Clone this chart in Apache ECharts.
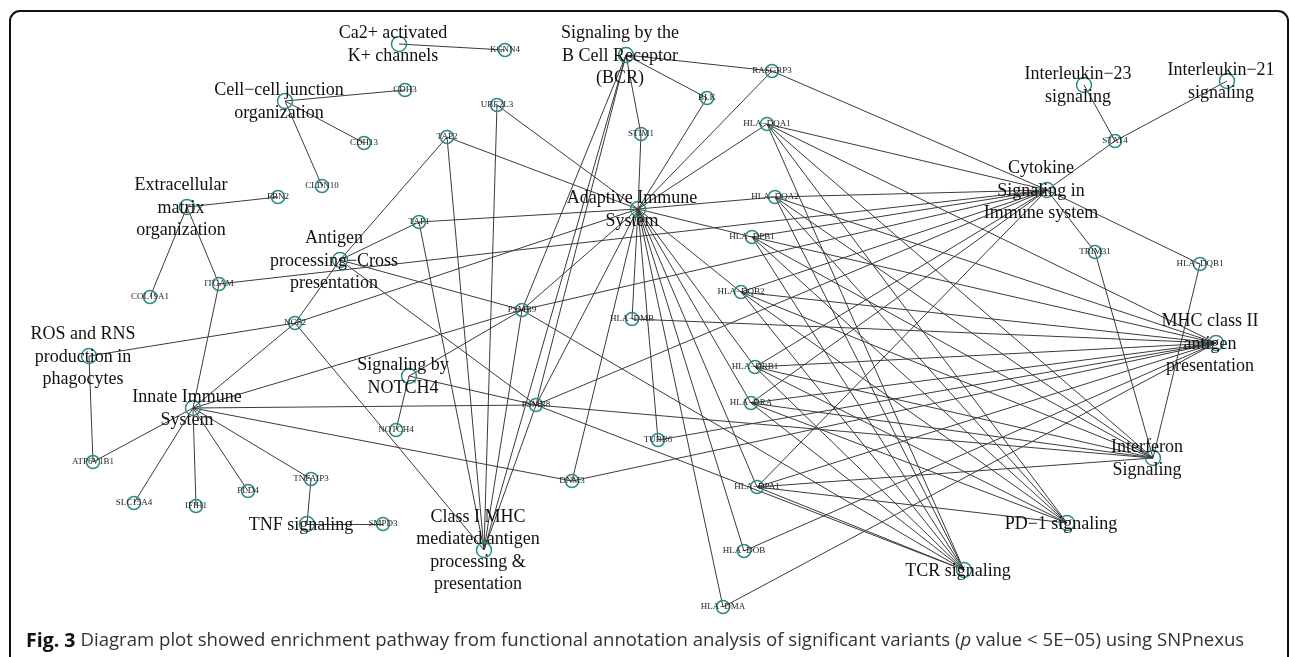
<!DOCTYPE html>
<html><head><meta charset="utf-8">
<script src="https://cdn.jsdelivr.net/npm/echarts@6/dist/echarts.min.js"></script>
<style>html,body{margin:0;padding:0;background:#fff}#c{width:1290px;height:657px}</style>
</head><body><div id="c"></div>
<script>
// Pathway nodes
const pathwayIds = ['CA','CCJ','ECM','AG','ROS','INN','NOTCH','TNF','C1','BCR','ADA','IL23','IL21','CYT','MHC2','IFN','PD1','TCR'];
const pathwayLabels = ['Ca2+ activated\nK+ channels','Cell\u2212cell junction\norganization','Extracellular\nmatrix\norganization',
 'Antigen\nprocessing\u2212Cross\npresentation','ROS and RNS\nproduction in\nphagocytes','Innate Immune\nSystem','Signaling by\nNOTCH4',
 'TNF signaling','Class I MHC\nmediated antigen\nprocessing &\npresentation','Signaling by the\nB Cell Receptor\n(BCR)',
 'Adaptive Immune\nSystem','Interleukin\u221223\nsignaling','Interleukin\u221221\nsignaling','Cytokine\nSignaling in\nImmune system',
 'MHC class II\nantigen\npresentation','Interferon\nSignaling','PD\u22121 signaling','TCR signaling'];
const pathwayX = [399,285,187,340,89,193,409,307,484,626,638,1084,1227,1047,1216,1153,1067,964];
const pathwayY = [44,101,207,260,356,408,376,524,550,55,209,85,81,190,343,458,523,570];

// Gene nodes
const geneLabels = ['KCNN4','CDH3','CDH13','CLDN10','FBN2','COL19A1','ITGAM','TAP2','TAP1','NCF2','UBE2L3','RASGRP3','BLK','STIM1',
 'HLA\u2212DQA1','HLA\u2212DQA2','HLA\u2212DPB1','HLA\u2212DQB2','HLA\u2212DMB','HLA\u2212DRB1','HLA\u2212DRA','HLA\u2212DPA1','HLA\u2212DOB','HLA\u2212DMA',
 'PSMB9','PSMB8','TUBB6','DNM3','NOTCH4','ATP6V1B1','SLC15A4','IFIH1','PLD4','TNFAIP3','SMPD3','STAT4','TRIM31','HLA\u2212DQB1'];
const geneX = [505,405,364,322,278,150,219,447,419,295,497,772,707,641,767,775,752,741,632,755,751,757,744,723,522,536,658,572,396,93,134,196,248,311,383,1115,1095,1200];
const geneY = [50,90,143,186,197,297,284,137,222,323,105,71,98,134,124,197,237,292,319,367,403,487,551,607,310,405,440,481,430,462,503,506,491,479,524,141,252,264];

// Edges: [gene, pathway]
const hlaCore = ['HLA\u2212DQA1','HLA\u2212DQA2','HLA\u2212DPB1','HLA\u2212DQB2','HLA\u2212DRB1','HLA\u2212DRA','HLA\u2212DPA1'];
const hlaAll = hlaCore.concat(['HLA\u2212DMB','HLA\u2212DOB','HLA\u2212DMA']);
const edgeList = [
 ['KCNN4','CA'],['CDH3','CCJ'],['CDH13','CCJ'],['CLDN10','CCJ'],
 ['FBN2','ECM'],['COL19A1','ECM'],['ITGAM','ECM'],['ITGAM','INN'],['ITGAM','CYT'],
 ['TAP2','AG'],['TAP1','AG'],['NCF2','AG'],['PSMB9','AG'],['PSMB8','AG'],
 ['TAP2','C1'],['TAP1','C1'],['NCF2','C1'],['UBE2L3','C1'],['PSMB9','C1'],['PSMB8','C1'],['BCR','C1'],
 ['TAP2','ADA'],['TAP1','ADA'],['NCF2','ADA'],['UBE2L3','ADA'],['STIM1','ADA'],['BLK','ADA'],['RASGRP3','ADA'],
 ['PSMB9','ADA'],['PSMB8','ADA'],['DNM3','ADA'],['TUBB6','ADA'],
 ['RASGRP3','BCR'],['BLK','BCR'],['STIM1','BCR'],['PSMB8','BCR'],['PSMB9','BCR'],
 ['NCF2','INN'],['ATP6V1B1','INN'],['SLC15A4','INN'],['IFIH1','INN'],['PLD4','INN'],['TNFAIP3','INN'],['PSMB9','INN'],['PSMB8','INN'],['DNM3','INN'],
 ['NCF2','ROS'],['ATP6V1B1','ROS'],['TNFAIP3','TNF'],['SMPD3','TNF'],
 ['NOTCH4','NOTCH'],['PSMB9','NOTCH'],['PSMB8','NOTCH'],
 ['RASGRP3','CYT'],['STAT4','CYT'],['TRIM31','CYT'],['HLA\u2212DQB1','CYT'],['PSMB8','CYT'],['PSMB9','CYT'],
 ['STAT4','IL23'],['STAT4','IL21'],
 ['TRIM31','IFN'],['HLA\u2212DQB1','IFN'],['PSMB8','IFN'],
 ['TUBB6','MHC2'],['DNM3','MHC2'],['PSMB8','TCR'],['PSMB9','TCR']
];
hlaAll.forEach(h => { edgeList.push([h,'ADA']); edgeList.push([h,'MHC2']); });
hlaCore.forEach(h => { ['CYT','IFN','PD1','TCR'].forEach(p => edgeList.push([h,p])); });

const nodes = [];
pathwayIds.forEach((id,i) => nodes.push({
  name: id, value: [pathwayX[i], pathwayY[i]], symbolSize: 15,
  label: { show: true, position: 'inside', offset: [-6, 1], formatter: pathwayLabels[i],
    fontFamily: 'Liberation Serif', fontSize: 18, lineHeight: 22.5, color: '#111' }
}));
geneLabels.forEach((g,i) => nodes.push({
  name: g, value: [geneX[i], geneY[i]], symbolSize: 13,
  label: { show: true, position: 'inside', formatter: g,
    fontFamily: 'Liberation Serif', fontSize: 9, color: '#222' }
}));
const links = edgeList.map(e => ({ source: e[0], target: e[1] }));

const chart = echarts.init(document.getElementById('c'), null, { renderer: 'canvas' });
chart.setOption({
  animation: false,
  grid: { left: 0, right: 0, top: 0, bottom: 0 },
  xAxis: { type: 'value', min: 0, max: 1290, show: false },
  yAxis: { type: 'value', min: 0, max: 657, inverse: true, show: false },
  title: {
    left: 26, top: 631, padding: 0,
    text: '{b|Fig. 3} {r|Diagram plot showed enrichment pathway from functional annotation analysis of significant variants (}{i|p}{r| value < 5E\u221205) using SNPnexus}',
    textStyle: { fontWeight: 'normal', rich: {
      b: { fontFamily: 'Open Sans', fontWeight: 'bold', fontSize: 19.5, color: '#111' },
      r: { fontFamily: 'Open Sans', fontWeight: 'normal', fontSize: 18.6, color: '#333' },
      i: { fontFamily: 'Open Sans', fontWeight: 'normal', fontStyle: 'italic', fontSize: 18.6, color: '#333' }
    } }
  },
  graphic: [{ type: 'rect', shape: { x: 10, y: 11, width: 1278, height: 720, r: 10 },
    style: { fill: 'none', stroke: '#111', lineWidth: 2 }, silent: true, z: 10 }],
  series: [{
    type: 'graph', coordinateSystem: 'cartesian2d', layout: 'none',
    data: nodes, links: links,
    symbol: 'circle',
    itemStyle: { color: 'rgba(255,255,255,0)', borderColor: '#2f8a86', borderWidth: 1.5 },
    lineStyle: { color: '#3a3a3a', width: 1, opacity: 1, curveness: 0 },
    emphasis: { disabled: true }
  }]
});
</script></body></html>
